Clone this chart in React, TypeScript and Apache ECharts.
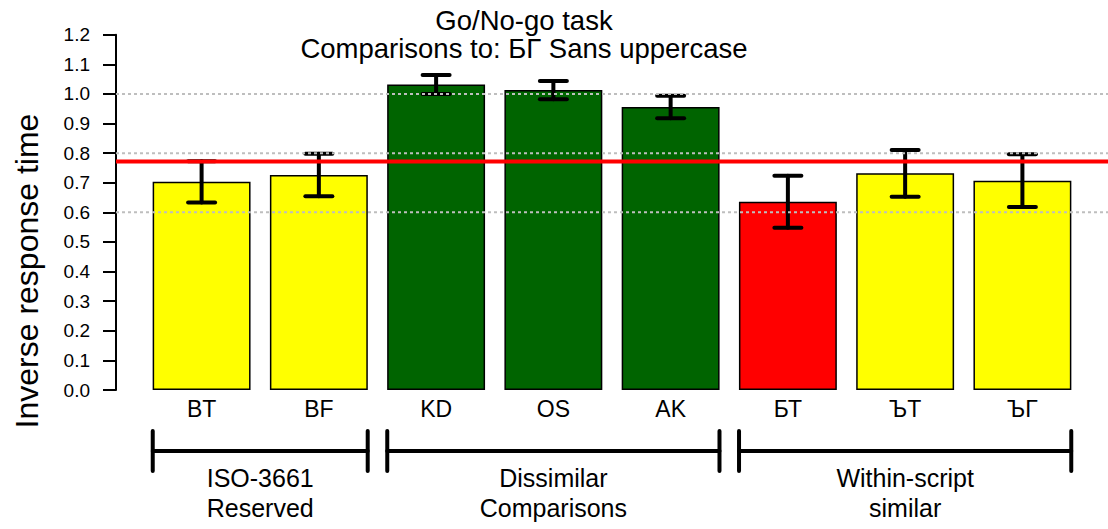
import React, { useEffect, useRef } from "react";
import * as echarts from "echarts";

const categories = ["BT", "BF", "KD", "OS", "AK", "БТ", "ЪТ", "ЪГ"];
const means = [0.703, 0.726, 1.032, 1.013, 0.956, 0.636, 0.732, 0.707];
const errors = [0.07, 0.072, 0.032, 0.031, 0.038, 0.088, 0.079, 0.089];
const barColors = ["#ffff00", "#ffff00", "#006400", "#006400", "#006400", "#ff0000", "#ffff00", "#ffff00"];
const groupLabels = ["ISO-3661\nReserved", "Dissimilar\nComparisons", "Within-script\nsimilar"];
const groupStart = [0, 2, 5];
const groupEnd = [1, 4, 7];
const referenceLine = 0.772;
const gridLineValues = [0.6, 0.8, 1.0];
const titleText = "Go/No-go task\nComparisons to: БГ Sans uppercase";
const yAxisTitle = "Inverse response time";

const FONT = "'Liberation Sans', Arial, Helvetica, sans-serif";
const SPACE = 0.2;
const barMid = (i: number) => SPACE + i * (1 + SPACE) + 0.5;
const X_MIN = SPACE - 0.04 * (categories.length * (1 + SPACE) - SPACE);
const X_MAX = categories.length * (1 + SPACE) + 0.04 * (categories.length * (1 + SPACE) - SPACE);
const GRID_LEFT = 116;
const GRID_WIDTH = 994;
const GRID_TOP = 34.7;
const GRID_HEIGHT = 355.3;

export default function App() {
  const ref = useRef<HTMLDivElement>(null);
  useEffect(() => {
    if (!ref.current) return;
    const chart = echarts.init(ref.current, null, { renderer: "svg" });
    const barWidthPx = GRID_WIDTH / (X_MAX - X_MIN);
    const option: any = {
      animation: false,
      backgroundColor: "#ffffff",
      textStyle: { fontFamily: FONT },
      title: {
        text: titleText,
        left: 524,
        textAlign: "center",
        top: 6,
        padding: 0,
        textStyle: { fontFamily: FONT, fontSize: 27.5, fontWeight: "normal", color: "#000", lineHeight: 28.5 },
      },
      grid: { left: GRID_LEFT, top: GRID_TOP, width: GRID_WIDTH, height: GRID_HEIGHT, containLabel: false },
      xAxis: { type: "value", min: X_MIN, max: X_MAX, show: false },
      yAxis: {
        type: "value",
        min: 0,
        max: 1.2,
        interval: 0.1,
        axisLine: { show: true, onZero: false, lineStyle: { color: "#000", width: 2 } },
        axisTick: { show: true, length: 13, lineStyle: { color: "#000", width: 2 } },
        axisLabel: {
          margin: 26,
          fontSize: 19,
          color: "#000",
          fontFamily: FONT,
          formatter: (v: number) => v.toFixed(1),
        },
        splitLine: { show: false },
      },
      graphic: [
        {
          type: "text",
          x: 27,
          y: 271,
          rotation: Math.PI / 2,
          style: {
            text: yAxisTitle,
            fontSize: 32,
            fontFamily: FONT,
            fill: "#000",
            textAlign: "center",
            textVerticalAlign: "middle",
          },
        },
      ],
      series: [
        {
          type: "bar",
          barWidth: barWidthPx,
          z: 2,
          data: means.map((v, i) => ({
            value: [barMid(i), v],
            itemStyle: { color: barColors[i], borderColor: "#000", borderWidth: 1.5 },
          })),
          label: {
            show: true,
            position: "bottom",
            distance: 7,
            fontSize: 23,
            lineHeight: 24,
            color: "#000",
            fontFamily: FONT,
            formatter: (p: any) => categories[p.dataIndex],
          },
        },
        {
          type: "custom",
          z: 3,
          clip: false,
          data: means.map((v, i) => [barMid(i), v, errors[i]]),
          renderItem: (params: any, api: any) => {
            const x = api.value(0);
            const v = api.value(1);
            const e = api.value(2);
            const hi = api.coord([x, v + e]);
            const lo = api.coord([x, v - e]);
            const hw = 13.5;
            const st = { stroke: "#000", lineWidth: 4, lineCap: "round" };
            return {
              type: "group",
              children: [
                { type: "line", shape: { x1: hi[0], y1: hi[1], x2: lo[0], y2: lo[1] }, style: st },
                { type: "line", shape: { x1: hi[0] - hw, y1: hi[1], x2: hi[0] + hw, y2: hi[1] }, style: st },
                { type: "line", shape: { x1: lo[0] - hw, y1: lo[1], x2: lo[0] + hw, y2: lo[1] }, style: st },
              ],
            };
          },
        },
        {
          type: "custom",
          z: 4,
          clip: false,
          data: gridLineValues.map((v) => [X_MIN, v]),
          renderItem: (params: any, api: any) => {
            const cs = params.coordSys;
            const y = api.coord([X_MIN, api.value(1)])[1];
            return {
              type: "line",
              shape: { x1: cs.x, y1: y, x2: cs.x + cs.width, y2: y },
              style: { stroke: "#bebebe", lineWidth: 2, lineDash: [3, 3] },
            };
          },
        },
        {
          type: "custom",
          z: 5,
          clip: false,
          data: [[X_MIN, referenceLine]],
          renderItem: (params: any, api: any) => {
            const cs = params.coordSys;
            const y = api.coord([X_MIN, api.value(1)])[1];
            return {
              type: "line",
              shape: { x1: cs.x, y1: y, x2: cs.x + cs.width, y2: y },
              style: { stroke: "#ff0000", lineWidth: 4 },
            };
          },
        },
        {
          type: "custom",
          z: 5,
          clip: false,
          data: groupStart.map((s, i) => [barMid(s) - 0.5, 0, barMid(groupEnd[i]) + 0.5]),
          renderItem: (params: any, api: any) => {
            const l = api.coord([api.value(0), 0]);
            const r = api.coord([api.value(2), 0]);
            const y0 = l[1];
            const st = { stroke: "#000", lineWidth: 4, lineCap: "round" };
            return {
              type: "group",
              children: [
                { type: "line", shape: { x1: l[0], y1: y0 + 61, x2: r[0], y2: y0 + 61 }, style: st },
                { type: "line", shape: { x1: l[0], y1: y0 + 41, x2: l[0], y2: y0 + 81 }, style: st },
                { type: "line", shape: { x1: r[0], y1: y0 + 41, x2: r[0], y2: y0 + 81 }, style: st },
                {
                  type: "text",
                  x: (l[0] + r[0]) / 2,
                  y: y0 + 73,
                  style: {
                    text: groupLabels[params.dataIndex],
                    fontSize: 25,
                    lineHeight: 30,
                    fontFamily: FONT,
                    fill: "#000",
                    textAlign: "center",
                    textVerticalAlign: "top",
                  },
                },
              ],
            };
          },
        },
      ],
    };
    chart.setOption(option);
    return () => chart.dispose();
  }, []);
  return (
    <div
      ref={ref}
      style={{ position: "fixed", left: 0, top: 0, width: 1108, height: 529, background: "#fff" }}
    />
  );
}
